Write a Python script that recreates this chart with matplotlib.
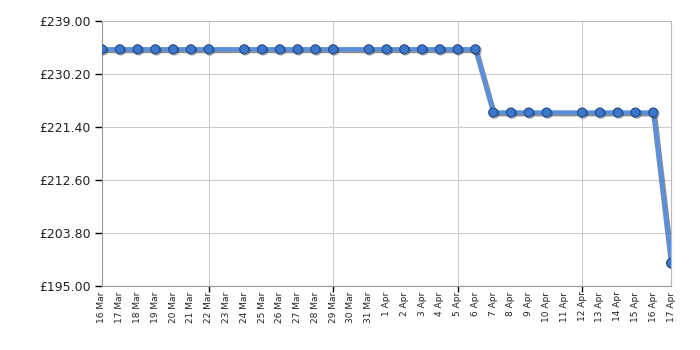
import matplotlib
matplotlib.use("Agg")
import matplotlib.pyplot as plt
import matplotlib.patheffects as pe
import numpy as np

dates = ["16 Mar", "17 Mar", "18 Mar", "19 Mar", "20 Mar", "21 Mar", "22 Mar", "23 Mar",
         "24 Mar", "25 Mar", "26 Mar", "27 Mar", "28 Mar", "29 Mar", "30 Mar", "31 Mar",
         "1 Apr", "2 Apr", "3 Apr", "4 Apr", "5 Apr", "6 Apr", "7 Apr", "8 Apr", "9 Apr",
         "10 Apr", "11 Apr", "12 Apr", "13 Apr", "14 Apr", "15 Apr", "16 Apr", "17 Apr"]
# None = no price recorded that day
prices = [234.3, 234.3, 234.3, 234.3, 234.3, 234.3, 234.3, None,
          234.3, 234.3, 234.3, 234.3, 234.3, 234.3, None, 234.3,
          234.3, 234.3, 234.3, 234.3, 234.3, 234.3, 223.8, 223.8, 223.8,
          223.8, None, 223.8, 223.8, 223.8, 223.8, 223.8, 198.8]
y_ticks = [195.00, 203.80, 212.60, 221.40, 230.20, 239.00]
week_marks = ["22 Mar", "29 Mar", "5 Apr", "12 Apr"]

xs = [i for i, p in enumerate(prices) if p is not None]
ys = [p for p in prices if p is not None]

fig = plt.figure(figsize=(7, 3.5), dpi=100)
ax = fig.add_axes([0.1457, 0.1829, 0.8129, 0.7571])

ax.plot(xs, ys, color="#5b8fdb", lw=3.2, solid_capstyle="round", solid_joinstyle="round", zorder=3,
        path_effects=[pe.SimpleLineShadow(offset=(1.2, -1.2), shadow_color="#333333", alpha=0.55),
                      pe.Normal()])
ax.plot(xs, ys, ls="none", marker="o", ms=6.5, mfc="#3b78cc", mec="#1f4a88", mew=0.8, zorder=4,
        path_effects=[pe.SimpleLineShadow(offset=(0.8, -0.8), shadow_color="#222222", alpha=0.5),
                      pe.Normal()])

ax.set_xlim(0, len(dates) - 1)
ax.set_ylim(y_ticks[0], y_ticks[-1])
ax.set_yticks(y_ticks)
ax.set_yticklabels([f"£{v:.2f}" for v in y_ticks], fontsize=9, color="#222222")

ax.xaxis.remove_overlapping_locs = False
ax.set_xticks(range(len(dates)))
ax.set_xticklabels(dates, rotation=90, fontsize=6.5, color="#222222")
ax.tick_params(axis="x", which="major", length=0, pad=4)
ax.set_xticks([dates.index(d) for d in week_marks], minor=True)
ax.tick_params(axis="x", which="minor", length=4, color="#000000", width=1)
ax.tick_params(axis="y", length=5, color="#000000", width=1, pad=3)

ax.grid(axis="y", color="#cccccc", lw=0.8)
ax.grid(axis="x", which="minor", color="#cccccc", lw=0.8)
ax.set_axisbelow(True)

for s in ["top", "right"]:
    ax.spines[s].set_color("#bbbbbb")
for s in ["left", "bottom"]:
    ax.spines[s].set_color("#999999")

fig.savefig("out.png", dpi=100)
